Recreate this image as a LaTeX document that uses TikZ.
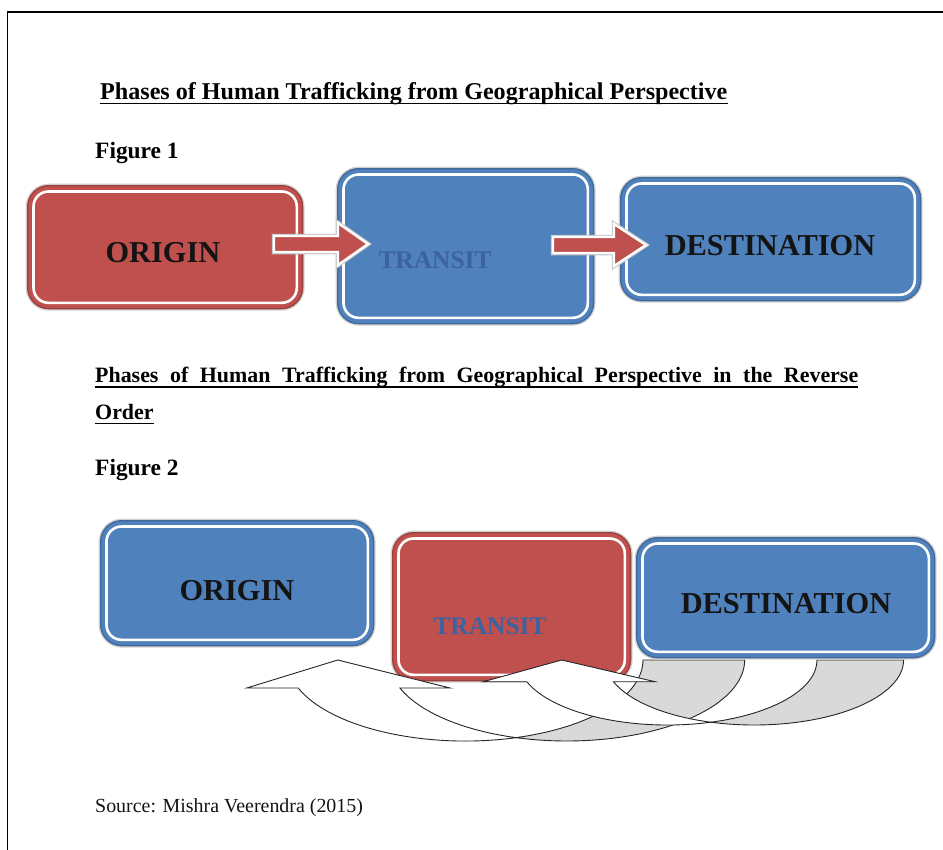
\documentclass[tikz,border=0pt]{standalone}
\usepackage{fontspec}
\setmainfont{Liberation Serif}
\usetikzlibrary{calc}
\definecolor{ored}{HTML}{C0504D}
\definecolor{oblue}{HTML}{4F81BD}
\definecolor{ttxt}{HTML}{3D62A0}
\definecolor{agrey}{HTML}{D9D9D9}
\newcommand{\obox}[6]{%
  \node[boxbase, fill=#6, draw=#6!80!black, minimum width=#4bp, minimum height=#5bp, anchor=north west] (#1) at (#2,#3) {};
  \draw[white, line width=2.6bp, rounded corners=15bp] ([shift={(6.5bp,-6.5bp)}]#1.north west) rectangle ([shift={(-6.5bp,6.5bp)}]#1.south east);
}
\tikzset{
  boxbase/.style={rectangle, rounded corners=21bp, line width=1.3bp, inner sep=0pt,
    preaction={draw=black!18, line width=4bp}},
  boxtxt/.style={inner sep=0pt, text=black!92, font=\bfseries\fontsize{30.5}{30.5}\selectfont},
  trtxt/.style={inner sep=0pt, text=ttxt, font=\bfseries\fontsize{25.5}{25.5}\selectfont},
  htext/.style={inner sep=0pt, anchor=base west, font=\bfseries\fontsize{23.5}{23.5}\selectfont},
  htexts/.style={inner sep=0pt, anchor=base west, font=\bfseries\fontsize{22}{22}\selectfont},
  uline/.style={line width=1.7bp},
  farrow/.style={fill=ored, draw=white, line width=2.4bp, line join=miter,
    preaction={draw=black!22, line width=4.5bp}},
  cfront/.style={fill=white, draw=black!85, line width=0.9bp},
  cback/.style={fill=agrey, draw=black!85, line width=0.9bp},
}
\begin{document}
\begin{tikzpicture}[x=1bp,y=-1bp]
\useasboundingbox (0,0) rectangle (943,850);
\fill[white] (0,0) rectangle (943,850);
% frame
\draw[line width=1.8bp] (7.5,850) -- (7.5,12) -- (943,12);

% ---------- headings ----------
\node[htext, font=\bfseries\fontsize{24.2}{24.2}\selectfont] (t1) at (100,99) {Phases of Human Trafficking from Geographical Perspective};
\draw[uline] ([yshift=-4.5bp]t1.base west) -- ([yshift=-4.5bp]t1.base east);
\node[htext] (f1) at (95,158) {Figure 1};

% ---------- Figure 1 ----------
\obox{o1}{27}{185}{275}{123}{ored}
\obox{tr1}{337}{168}{256}{155}{oblue}
\obox{d1}{620}{177}{300}{123}{oblue}
\node[boxtxt] (o1t) at (163,253) {ORIGIN};
\node[trtxt] (tr1t) at (435,260) {TRANSIT};
\node[boxtxt] (d1t) at (770,246) {DESTINATION};
\draw[farrow] (274,236) -- (338,236) -- (338,223) -- (368,244) -- (338,265) -- (338,252) -- (274,252) -- cycle;
\draw[farrow] (553,237) -- (614,237) -- (614,224) -- (646,245) -- (614,266) -- (614,253) -- (553,253) -- cycle;

% ---------- second heading ----------
\node[htexts] (t2) at (95,382) {\makebox[763bp][s]{Phases of Human Trafficking from Geographical Perspective in the Reverse}};
\draw[uline] ([yshift=-4.8bp]t2.base west) -- ([yshift=-4.8bp]t2.base east);
\node[htexts] (t3) at (95,419) {Order};
\draw[uline] ([yshift=-4.5bp]t3.base west) -- ([yshift=-4.5bp]t3.base east);
\node[htext] (f2) at (95,475) {Figure 2};

% ---------- Figure 2 ----------
\obox{o2}{100}{520}{273}{125}{oblue}
\obox{tr2}{392}{532}{238}{148}{ored}
\node[boxtxt] (o2t) at (237,591) {ORIGIN};
\node[trtxt] (tr2t) at (490,626) {TRANSIT};

% curved arrow A (back, then front)
\filldraw[cback] (643,660) arc[start angle=0,end angle=73.4,x radius=178,y radius=81]
  arc[start angle=106.6,end angle=0,x radius=178,y radius=81] -- cycle;
\filldraw[cfront] (337.7,660) -- (450,688) -- (399.9,688)
  arc[start angle=159.8,end angle=106.6,x radius=178,y radius=81]
  arc[start angle=73.4,end angle=159.8,x radius=178,y radius=81]
  -- (246.7,688) -- cycle;
% curved arrow B
\filldraw[cback] (817,660) arc[start angle=0,end angle=73.15,x radius=149.4,y radius=65]
  arc[start angle=106.85,end angle=0,x radius=149.4,y radius=65] -- cycle;
\filldraw[cfront] (561.7,660) -- (655,681.7) -- (613.4,681.7)
  arc[start angle=160.5,end angle=106.85,x radius=149.4,y radius=65]
  arc[start angle=73.15,end angle=160.5,x radius=149.4,y radius=65]
  -- (483.3,681.7) -- cycle;

\obox{d2}{636}{537}{298}{120}{oblue}
\node[boxtxt] (d2t) at (786,604) {DESTINATION};

% ---------- source ----------
\node[inner sep=0pt, anchor=base west, font=\fontsize{20}{20}\selectfont, text=black!92] (src) at (95,812) {Source: Mishra Veerendra (2015)};
\end{tikzpicture}
\end{document}
